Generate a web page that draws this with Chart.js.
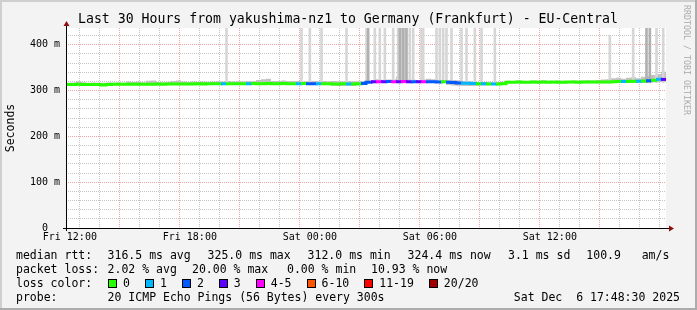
<!DOCTYPE html>
<html>
<head>
<meta charset="utf-8">
<script src="https://cdn.jsdelivr.net/npm/chart.js@4.4.1/dist/chart.umd.min.js"></script>
<style>
  html, body { margin: 0; padding: 0; background: #f3f3f3; }
  #wrap { position: relative; width: 697px; height: 310px; overflow: hidden; }
  #rrd { position: absolute; left: 0; top: 0; }
  .txt { position: absolute; font-family: "DejaVu Sans Mono", monospace; font-size: 11.5px; line-height: 14px; color: #000; white-space: pre; }
  #title { position: absolute; left: 0; width: 696px; top: 11px; text-align: center;
    font-family: "DejaVu Sans Mono", monospace; font-size: 13.2px; line-height: 16px; color: #000; white-space: pre; }
  .lossrow { display: flex; align-items: center; }
  .box { display: inline-block; width: 7px; height: 7px; border: 1px solid #000; margin-right: 6px; }
  .lbl { margin-right: 15px; }
  #credit { position: absolute; left: 692px; top: 5px; transform-origin: 0 0; transform: rotate(90deg);
    font-family: "DejaVu Sans Mono", monospace; font-size: 8.3px; line-height: 10px; color: #ababab; white-space: pre; }
</style>
</head>
<body>
<div id="wrap">
  <canvas id="rrd" width="697" height="310"></canvas>
  <div id="title">Last 30 Hours from yakushima-nz1 to Germany (Frankfurt) - EU-Central</div>
  <div id="credit">RRDTOOL / TOBI OETIKER</div>
</div>
<script>
// time axis in minutes since Fri 00:00; graph covers Fri 11:48:30 .. Sat 17:48:30
const startMinute = 708.5;
const endMinute = 2508.5;
const stepMinutes = 15;

const tickMinutes = [720, 1080, 1440, 1800, 2160];
const tickLabels = ["Fri 12:00", "Fri 18:00", "Sat 00:00", "Sat 06:00", "Sat 12:00"];

// median rtt (ms), one value per 15 min
const median = [
  313.5, 313.5, 313.8, 313.5, 313.5, 313.6, 313.5, 312.0, 313.6, 313.8,
  313.7, 313.8, 314.0, 313.8, 313.9, 314.0, 313.9, 314.0, 314.2, 314.0,
  314.2, 314.4, 314.5, 314.3, 314.6, 314.5, 314.8, 314.6, 314.8, 315.0,
  314.8, 315.0, 315.2, 314.9, 315.0, 315.2, 315.0, 315.3, 315.1, 315.2,
  315.4, 315.2, 315.0, 315.3, 315.1, 315.2, 315.0, 315.4, 315.1, 315.0,
  315.2, 314.8, 315.0, 314.6, 314.4, 314.8, 314.5, 314.2, 314.8, 315.5,
  318.5, 319.4, 319.6, 319.5, 319.8, 319.6, 319.5, 319.7, 319.4, 319.6,
  319.5, 319.3, 319.4, 319.2, 319.0, 319.1, 318.2, 317.5, 316.8, 316.2,
  315.8, 315.4, 315.0, 314.8, 314.6, 314.5, 314.6, 315.2, 318.4, 318.5,
  318.6, 318.5, 318.4, 318.6, 318.5, 318.7, 318.5, 318.6, 318.4, 318.5,
  318.7, 318.6, 318.5, 318.8, 318.6, 318.7, 318.9, 319.0, 318.8, 319.5,
  319.8, 320.0, 319.7, 320.2, 320.5, 320.8, 321.5, 322.8, 325.0, 324.4
];

// loss class per step (index into lossLabels)
const lossClass = [
  0, 0, 0, 0, 0, 0, 0, 0, 0, 0,
  0, 0, 0, 0, 0, 0, 0, 0, 0, 0,
  0, 0, 0, 0, 0, 0, 0, 0, 0, 0,
  0, 1, 0, 0, 0, 0, 1, 0, 0, 0,
  0, 0, 0, 0, 0, 0, 1, 0, 2, 2,
  1, 0, 0, 0, 0, 0, 1, 0, 0, 2,
  2, 3, 4, 3, 2, 4, 3, 4, 3, 2,
  3, 4, 2, 2, 2, 0, 2, 2, 2, 1,
  1, 1, 0, 1, 0, 1, 0, 0, 0, 0,
  0, 0, 0, 0, 0, 0, 0, 0, 0, 0,
  0, 0, 0, 0, 0, 0, 0, 0, 0, 0,
  0, 1, 0, 0, 1, 0, 2, 0, 1, 3
];

// smoke band (spread of the pings), ms
const smokeHi = [
  317.0, 317.5, 320.5, 318.0, 317.0, 317.5, 317.0, 317.0, 317.5, 317.0,
  317.5, 317.0, 320.0, 319.0, 320.0, 318.0, 321.5, 322.0, 319.0, 318.0,
  319.0, 321.0, 322.0, 320.0, 319.0, 320.0, 319.5, 320.0, 319.0, 320.0,
  320.5, 320.0, 321.0, 320.0, 320.5, 320.0, 321.0, 320.5, 323.0, 325.0,
  326.0, 321.0, 321.0, 322.0, 321.0, 320.5, 321.0, 320.0, 320.5, 321.0,
  320.5, 321.0, 320.0, 321.0, 320.5, 320.0, 321.0, 320.5, 320.0, 321.0,
  322.0, 323.0, 325.0, 323.5, 324.0, 324.0, 330.0, 329.0, 324.0, 323.5,
  323.0, 324.0, 326.0, 325.0, 323.5, 323.0, 323.0, 323.0, 322.5, 321.0,
  320.0, 319.5, 319.0, 319.0, 318.5, 318.5, 319.0, 320.0, 321.5, 321.0,
  322.0, 321.5, 321.0, 322.0, 321.5, 322.5, 321.5, 321.0, 322.0, 321.5,
  321.0, 322.0, 321.5, 322.0, 322.5, 322.0, 323.0, 324.0, 325.0, 327.0,
  328.0, 326.0, 328.0, 329.0, 327.0, 330.0, 332.0, 334.0, 336.0, 341.0
];
const smokeLo = [
  311.5, 311.5, 311.5, 311.5, 311.5, 311.5, 311.5, 310.5, 311.5, 311.5,
  311.5, 311.5, 311.5, 311.5, 311.5, 311.5, 311.5, 311.5, 311.5, 311.5,
  312.0, 312.0, 312.0, 312.0, 312.0, 312.0, 312.0, 312.0, 312.0, 312.0,
  312.0, 312.0, 312.0, 312.0, 312.0, 312.0, 312.0, 312.0, 312.0, 312.0,
  312.5, 312.5, 312.5, 312.5, 312.5, 312.5, 312.5, 312.5, 312.5, 312.5,
  312.5, 312.0, 312.0, 310.5, 310.0, 310.0, 310.5, 310.0, 311.0, 312.5,
  316.5, 316.5, 316.5, 316.5, 316.5, 316.5, 316.5, 316.5, 316.5, 316.5,
  316.5, 316.5, 316.5, 316.5, 316.5, 316.5, 312.0, 311.0, 310.5, 310.0,
  310.0, 310.0, 310.5, 311.0, 311.5, 312.0, 312.0, 312.5, 316.0, 316.0,
  316.0, 316.0, 316.0, 316.0, 316.0, 316.0, 316.0, 316.0, 316.0, 316.0,
  316.0, 316.0, 316.0, 316.0, 316.0, 316.0, 316.0, 316.0, 316.0, 316.5,
  316.5, 316.5, 316.5, 316.5, 316.5, 316.5, 317.0, 318.0, 318.0, 319.0
];

// single slow pings that shoot above the graph (minutes since Fri 00:00)
const spikeBase = 317;
const spikeMinutes = [1190, 1415, 1440, 1475, 1550, 1610, 1635, 1650, 1665, 1690, 1705, 1715, 1725,
  1740, 1750, 1775, 1780, 1820, 1830, 1840, 1850, 1865, 1895, 1910, 1935, 1955, 1995,
  2340, 2410, 2480, 2500];
const spikeTop = [440, 440, 440, 440, 440, 440, 440, 440, 440, 440, 440, 440, 440,
  440, 440, 440, 440, 440, 440, 440, 440, 440, 440, 440, 440, 440, 440,
  421, 440, 440, 440];
const heavySpikeMinutes = [1615, 1710, 1720, 1730, 2450, 2460];
const heavySpikeTop = [440, 440, 440, 440, 440, 440];

const lossLabels = ["0", "1", "2", "3", "4-5", "6-10", "11-19", "20/20"];
const lossColors = ["#26ff00", "#00b8ff", "#0059ff", "#5e00ff", "#ff00ff", "#ff5500", "#ff0000", "#a00000"];

const rttStats = ["316.5 ms avg", "325.0 ms max", "312.0 ms min", "324.4 ms now", "3.1 ms sd", "100.9   am/s"];
const lossStats = ["2.02 % avg", "20.00 % max", "0.00 % min", "10.93 % now"];
const probeText = "20 ICMP Echo Pings (56 Bytes) every 300s";
const stampText = "Sat Dec  6 17:48:30 2025";

// ---------- chart ----------
const gridColor = "rgba(150,150,150,0.55)";
const mgridColor = "rgba(225,90,90,0.55)";

const hourTicks = [];
for (let m = 720; m < endMinute; m += 60) hourTicks.push(m);
const yTicks = [];
for (let v = 0; v <= 420; v += 20) yTicks.push(v);

function steps(values) {
  const pts = values.map((v, i) => ({ x: startMinute + i * stepMinutes, y: v }));
  pts.push({ x: endMinute, y: values[values.length - 1] });
  return pts;
}

const frame = {
  id: "frame",
  beforeDraw(chart) {
    const { ctx, width, height, chartArea: a } = chart;
    ctx.save();
    ctx.fillStyle = "#f3f3f3";
    ctx.fillRect(0, 0, width, height);
    ctx.fillStyle = "#fff";
    ctx.fillRect(a.left, a.top, a.right - a.left, a.bottom - a.top);
    ctx.fillStyle = "#cfcfcf";
    ctx.fillRect(0, 0, width, 2);
    ctx.fillRect(0, 0, 2, height);
    ctx.fillStyle = "#acacac";
    ctx.fillRect(0, height - 2, width, 2);
    ctx.fillRect(width - 2, 0, 2, height);
    ctx.restore();
  },
  afterDraw(chart) {
    const { ctx, chartArea: a } = chart;
    ctx.save();
    ctx.strokeStyle = "#000";
    ctx.lineWidth = 1;
    ctx.beginPath();
    ctx.moveTo(a.left - 3, a.bottom + 0.5);
    ctx.lineTo(a.right + 3, a.bottom + 0.5);
    ctx.moveTo(a.left + 0.5, a.bottom + 3);
    ctx.lineTo(a.left + 0.5, a.top - 2);
    ctx.stroke();
    // arrows
    ctx.fillStyle = "#8b1010";
    ctx.beginPath();
    ctx.moveTo(a.right + 8, a.bottom + 0.5);
    ctx.lineTo(a.right + 3, a.bottom - 2.5);
    ctx.lineTo(a.right + 3, a.bottom + 3.5);
    ctx.closePath();
    ctx.fill();
    ctx.beginPath();
    ctx.moveTo(a.left + 0.5, a.top - 7);
    ctx.lineTo(a.left - 2.5, a.top - 2);
    ctx.lineTo(a.left + 3.5, a.top - 2);
    ctx.closePath();
    ctx.fill();
    ctx.restore();
  }
};

Chart.defaults.font.family = "'DejaVu Sans Mono', monospace";
Chart.defaults.color = "#000";

new Chart(document.getElementById("rrd"), {
  type: "line",
  data: {
    datasets: [
      {
        label: "smoke lo",
        data: steps(smokeLo),
        stepped: true,
        borderWidth: 0,
        pointRadius: 0,
        fill: false,
        order: 6,
      },
      {
        label: "smoke hi",
        data: steps(smokeHi),
        stepped: true,
        borderWidth: 0,
        pointRadius: 0,
        fill: "-1",
        backgroundColor: "#c2c2c2",
        order: 5,
      },
      {
        type: "bar",
        label: "spikes",
        data: spikeMinutes.map((m, k) => ({ x: m, y: [spikeBase, spikeTop[k]] })),
        backgroundColor: "#d6d6d6",
        barThickness: 2,
        grouped: false,
        order: 4,
      },
      {
        type: "bar",
        label: "heavy spikes",
        data: heavySpikeMinutes.map((m, k) => ({ x: m, y: [spikeBase, heavySpikeTop[k]] })),
        backgroundColor: "#b0b0b0",
        barThickness: 2,
        grouped: false,
        order: 3,
      },
      {
        label: "median rtt",
        data: steps(median),
        stepped: true,
        borderWidth: 3,
        pointRadius: 0,
        borderColor: lossColors[0],
        segment: {
          borderColor: (c) => lossColors[lossClass[c.p0DataIndex]],
        },
        order: 1,
      },
    ],
  },
  options: {
    responsive: false,
    animation: false,
    events: [],
    layout: { padding: { left: 0, right: 31, top: 28, bottom: 62 } },
    scales: {
      x: {
        type: "linear",
        min: startMinute,
        max: endMinute,
        offset: false,
        afterBuildTicks: (s) => { s.ticks = hourTicks.map((v) => ({ value: v })); },
        afterFit: (s) => { s.height = 20; },
        ticks: {
          autoSkip: false,
          maxRotation: 0,
          padding: 3,
          color: "#000",
          font: { size: 10 },
          callback: (v) => {
            const k = tickMinutes.indexOf(v);
            return k >= 0 ? tickLabels[k] : "";
          },
        },
        grid: {
          drawTicks: false,
          lineWidth: 1,
          color: (c) => (c.tick && c.tick.value % 180 === 0 ? mgridColor : gridColor),
        },
        border: { display: false, dash: [1, 1] },
      },
      y: {
        type: "linear",
        min: 0,
        max: 436.7,
        afterBuildTicks: (s) => { s.ticks = yTicks.map((v) => ({ value: v })); },
        afterFit: (s) => { s.width = 66; },
        ticks: {
          autoSkip: false,
          padding: 6,
          color: "#000",
          font: { size: 10 },
          callback: (v) => (v % 100 === 0 ? (v === 0 ? "0  " : v + " m") : ""),
        },
        grid: {
          drawTicks: false,
          lineWidth: 1,
          color: (c) => (c.tick && c.tick.value % 100 === 0 ? mgridColor : gridColor),
        },
        border: { display: false, dash: [1, 1] },
        title: {
          display: true,
          text: "Seconds",
          color: "#000",
          font: { size: 11.5 },
          padding: { top: 4, bottom: 0 },
        },
      },
    },
    plugins: {
      legend: { display: false },
      tooltip: { enabled: false },
      title: { display: false },
    },
  },
  plugins: [frame],
});

// ---------- legend text below the graph ----------
const wrap = document.getElementById("wrap");
function addText(text, left, top) {
  const d = document.createElement("div");
  d.className = "txt";
  d.textContent = text;
  d.style.left = left + "px";
  d.style.top = top + "px";
  wrap.appendChild(d);
  return d;
}

const rowTop = [248, 262, 276, 290];
const rttLeft = [107.6, 207.6, 307.6, 407.6, 508, 586.3];
const lossLeft = [107.6, 192, 287, 371];

addText("median rtt:", 16, rowTop[0]);
rttStats.forEach((t, i) => addText(t, rttLeft[i], rowTop[0]));
addText("packet loss:", 16, rowTop[1]);
lossStats.forEach((t, i) => addText(t, lossLeft[i], rowTop[1]));
addText("loss color:", 16, rowTop[2]);

const lossRow = addText("", 108, rowTop[2]);
lossRow.classList.add("lossrow");
lossLabels.forEach((lab, i) => {
  const b = document.createElement("span");
  b.className = "box";
  b.style.background = lossColors[i];
  const l = document.createElement("span");
  l.className = "lbl";
  l.textContent = lab;
  lossRow.appendChild(b);
  lossRow.appendChild(l);
});

addText("probe:", 16, rowTop[3]);
addText(probeText, 107.6, rowTop[3]);
const stamp = addText(stampText, 0, rowTop[3]);
stamp.style.left = "";
stamp.style.right = "17px";
</script>
</body>
</html>
